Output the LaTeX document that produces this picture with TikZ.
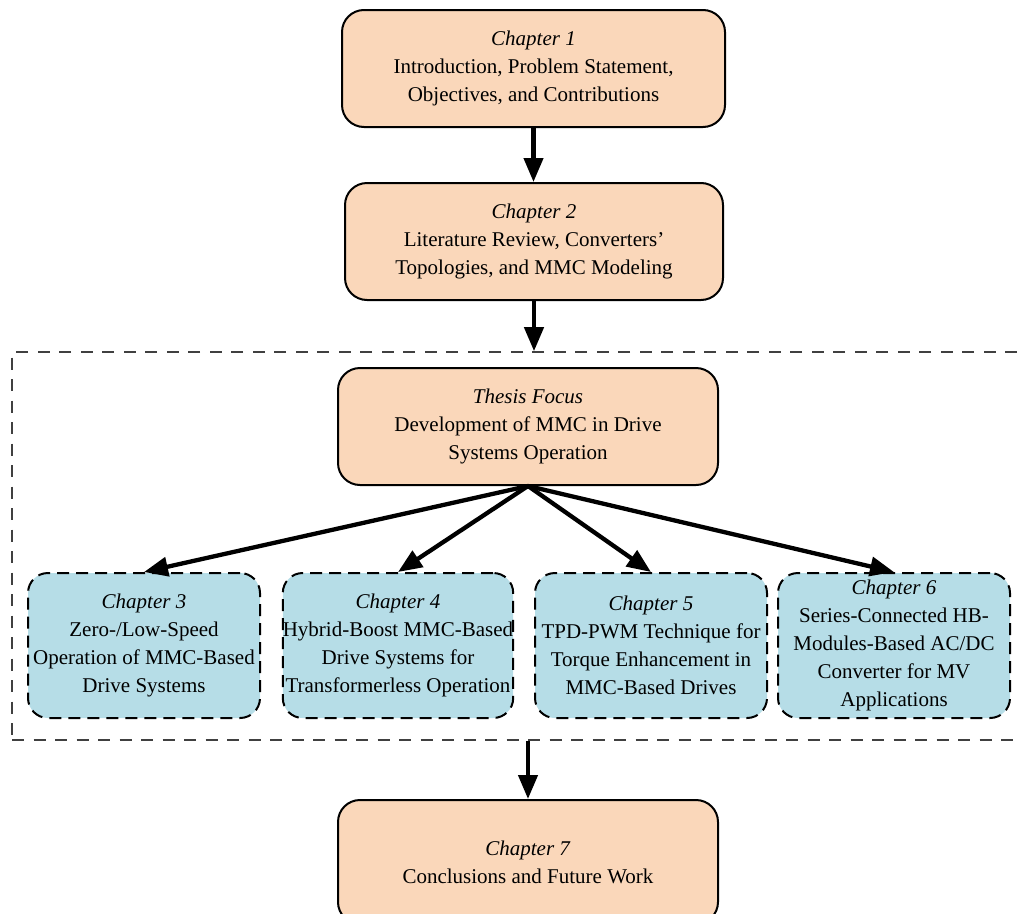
\documentclass[tikz,border=0pt]{standalone}
\usepackage{fontspec}
\setmainfont{Liberation Serif}
\usetikzlibrary{arrows.meta}
\definecolor{peach}{RGB}{250,215,186}
\definecolor{lblue}{RGB}{182,221,231}
\definecolor{framegray}{RGB}{64,64,64}
\begin{document}
\begin{tikzpicture}[x=1pt,y=-1pt,
  txt/.style={align=center, inner sep=0pt, font=\fontsize{21}{28}\selectfont},
  orangebox/.style={txt, draw=black, line width=2pt, fill=peach, rounded corners=22pt},
  bluebox/.style={txt, draw=black, line width=2pt, dash pattern=on 12pt off 7pt, fill=lblue, rounded corners=20pt, minimum width=232pt, minimum height=145pt},
  framebox/.style={draw=framegray, line width=1.6pt, dash pattern=on 12pt off 9.5pt, minimum width=1018pt, minimum height=388pt, inner sep=0pt},
  arr/.style={line width=4.3pt, -{Triangle[length=24pt,width=19pt]}}]
\useasboundingbox (0,0) rectangle (1020,913);
\clip (0,0) rectangle (1020,913);

\node[framebox] (frame) at (521,546) {};

\node[orangebox, minimum width=383pt, minimum height=117pt] (c1) at (533.5,68.5)
  {\textit{Chapter 1}\\Introduction, Problem Statement,\\Objectives, and Contributions};
\node[orangebox, minimum width=378pt, minimum height=117pt] (c2) at (534,241.5)
  {\textit{Chapter 2}\\Literature Review, Converters’\\Topologies, and MMC Modeling};
\node[orangebox, minimum width=380pt, minimum height=117pt] (th) at (528,426.5)
  {\textit{Thesis Focus}\\Development of MMC in Drive\\Systems Operation};

\node[bluebox] (c3) at (144,645.5)
  {\textit{Chapter 3}\\Zero-/Low-Speed\\Operation of MMC-Based\\Drive Systems};
\node[bluebox, minimum width=230pt] (c4) at (398,645.5)
  {\textit{Chapter 4}\\Hybrid-Boost MMC-Based\\Drive Systems for\\Transformerless Operation};
\node[bluebox] (c5) at (651,645.5)
  {\textit{Chapter 5}\\TPD-PWM Technique for\\Torque Enhancement in\\MMC-Based Drives};
\node[bluebox] (c6) at (894,645.5)
  {\textit{Chapter 6}\\Series-Connected HB-\\Modules-Based AC/DC\\Converter for MV\\Applications};

\node[orangebox, minimum width=380pt, minimum height=124pt] (c7) at (528,862)
  {\textit{Chapter 7}\\Conclusions and Future Work};

\draw[arr] (c1.south) -- (c1.south |- c2.north);
\draw[arr] (c2.south) -- (c2.south |- frame.north);
\draw[arr] (th.south) -- (c3.north);
\draw[arr] (th.south) -- (c4.north);
\draw[arr] (th.south) -- (c5.north);
\draw[arr] (th.south) -- (c6.north);
\draw[arr] (c7.north |- frame.south) -- (c7.north);
\end{tikzpicture}
\end{document}
